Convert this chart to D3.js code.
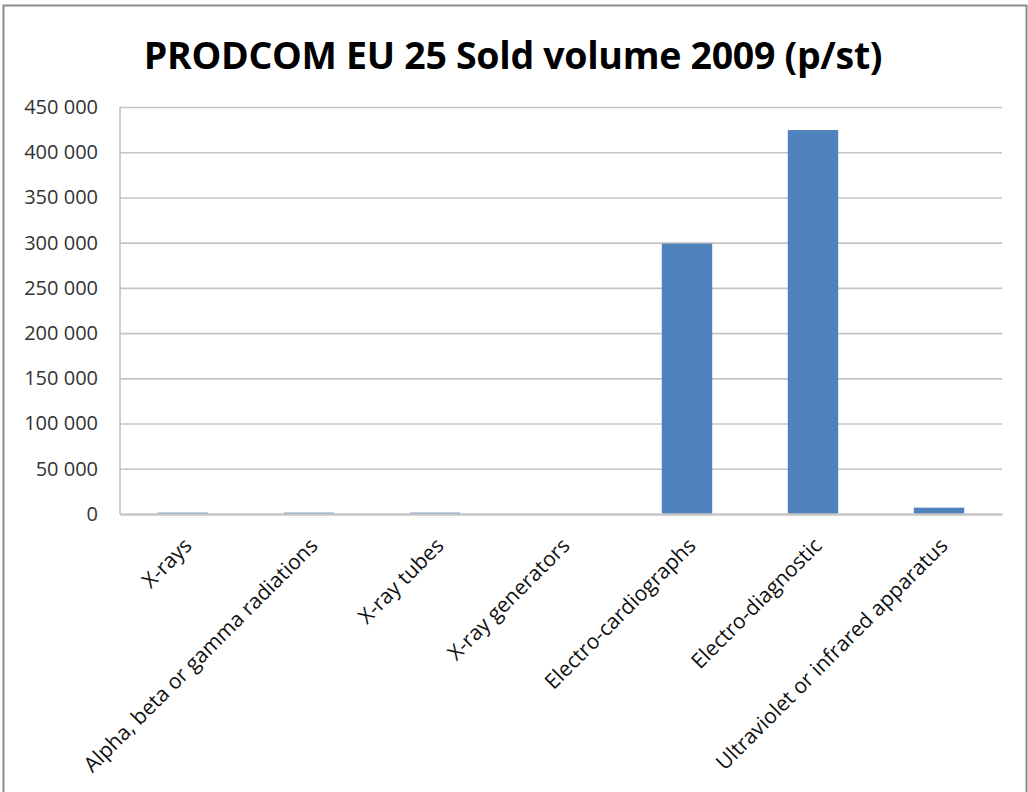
<!DOCTYPE html>
<html>
<head>
<meta charset="utf-8">
<script src="https://cdn.jsdelivr.net/npm/d3@7"></script>
<style>
  body { margin: 0; background: #fff; }
  svg { display: block; }
</style>
</head>
<body>
<div id="chart"></div>
<script>
// data
var categories = ["X-rays", "Alpha, beta or gamma radiations", "X-ray tubes", "X-ray generators",
                  "Electro-cardiographs", "Electro-diagnostic", "Ultraviolet or infrared  apparatus"];
var soldVolume = [1500, 1500, 1500, 0, 299000, 424500, 7000];
var yTicks = [0, 50000, 100000, 150000, 200000, 250000, 300000, 350000, 400000, 450000];
var title = "PRODCOM EU 25 Sold volume 2009 (p/st)";

var W = 1028, H = 792;
var margin = {top: 107, right: 26, bottom: 278, left: 120},
    width = W - margin.left - margin.right,
    height = H - margin.top - margin.bottom;

var svg = d3.select("#chart").append("svg").attr("width", W).attr("height", H);

// outer chart frame
svg.append("rect")
    .attr("x", 3.5).attr("y", 5.5)
    .attr("width", W - 5).attr("height", H + 10)
    .attr("fill", "none").attr("stroke", "#8c8c8c").attr("stroke-width", 2);

svg.append("text")
    .attr("x", 513).attr("y", 69)
    .attr("text-anchor", "middle")
    .attr("font-family", "'Open Sans', sans-serif")
    .attr("font-weight", "bold")
    .attr("font-size", 37.5)
    .attr("letter-spacing", -0.3)
    .attr("fill", "#000")
    .text(title);

var g = svg.append("g").attr("transform", "translate(" + margin.left + "," + margin.top + ")");

var x = d3.scaleBand()
    .domain(categories)
    .range([0, width])
    .paddingInner(0.6)
    .paddingOuter(0.3);

var y = d3.scaleLinear()
    .domain([0, 450000])
    .range([height, 0]);

var fmt = function(d) { return d3.format(",")(d).replace(/,/g, " "); };

// gridlines + y labels
var yAxis = g.append("g")
    .call(d3.axisLeft(y).tickValues(yTicks).tickSize(-width).tickPadding(22).tickFormat(fmt));
yAxis.select(".domain").remove();
yAxis.selectAll(".tick line").attr("stroke", "#c4c4c4").attr("stroke-width", 1.6);
yAxis.selectAll(".tick text")
    .attr("font-family", "'Open Sans', sans-serif")
    .attr("font-size", 20)
    .attr("fill", "#333");

// left axis line
g.append("line")
    .attr("x1", 0).attr("x2", 0).attr("y1", 0).attr("y2", height)
    .attr("stroke", "#bdbdbd").attr("stroke-width", 1.5);

g.selectAll("rect.bar")
    .data(soldVolume)
    .enter().append("rect")
      .attr("class", "bar")
      .attr("x", function(d, i) { return x(categories[i]); })
      .attr("y", function(d) { return y(d); })
      .attr("width", x.bandwidth())
      .attr("height", function(d) { return height - y(d); })
      .attr("fill", "#4f81bd");

// bottom axis
var xAxis = g.append("g")
    .attr("transform", "translate(0," + height + ")")
    .call(d3.axisBottom(x).tickSize(0).tickPadding(0));
xAxis.select(".domain").attr("stroke", "#c8c8c8").attr("stroke-width", 2.5);
xAxis.selectAll(".tick text")
    .attr("font-family", "'Open Sans', sans-serif")
    .attr("font-size", 21)
    .attr("fill", "#111")
    .attr("text-anchor", "end")
    .attr("dy", 0)
    .attr("transform", "translate(10,33) rotate(-45)");
</script>
</body>
</html>
